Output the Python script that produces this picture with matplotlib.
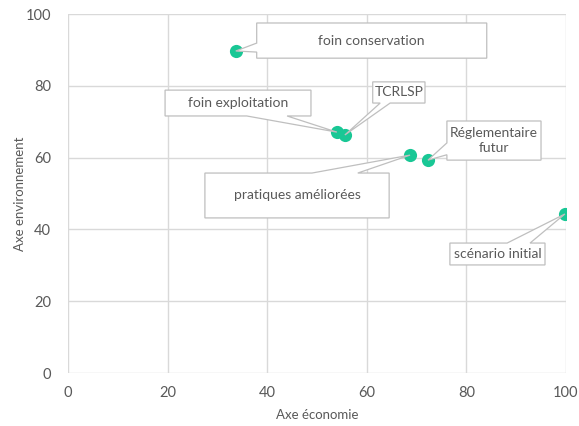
import matplotlib.pyplot as plt
from matplotlib.patches import Polygon

plt.rcParams['font.family'] = ['Lato', 'DejaVu Sans']

# scenario data (économie, environnement)
labels = ['foin conservation', 'foin exploitation', 'TCRLSP',
          'pratiques améliorées', 'Réglementaire\nfutur', 'scénario initial']
economie = [33.7, 54.0, 55.6, 68.7, 72.3, 99.8]
environnement = [89.7, 67.1, 66.3, 60.7, 59.3, 44.3]

# callout layout: box (x0, x1, y0, y1), side of the wedge, wedge base along that side
callouts = [
    ((37.9, 84.1, 87.7, 97.5), 'left', (89.4, 91.9)),
    ((19.5, 48.8, 71.6, 78.8), 'bottom', (35.9, 44.0)),
    ((61.2, 71.7, 75.2, 81.1), 'bottom', (62.7, 64.7)),
    ((27.5, 64.5, 43.2, 55.7), 'top', (49.0, 58.2)),
    ((76.1, 95.0, 59.3, 70.2), 'left', (60.8, 64.1)),
    ((76.7, 95.8, 30.1, 36.2), 'top', (88.2, 92.8)),
]

grey = '#595959'
line = '#d9d9d9'


def callout_path(box, side, base, tip):
    x0, x1, y0, y1 = box
    b0, b1 = base
    if side == 'bottom':
        return [(x0, y0), (b0, y0), tip, (b1, y0), (x1, y0), (x1, y1), (x0, y1)]
    if side == 'top':
        return [(x0, y0), (x1, y0), (x1, y1), (b1, y1), tip, (b0, y1), (x0, y1)]
    return [(x0, y0), (x1, y0), (x1, y1), (x0, y1), (x0, b1), tip, (x0, b0)]


fig = plt.figure(figsize=(5.79, 4.26), dpi=100)
ax = fig.add_axes([0.1174, 0.1244, 0.860, 0.8427])

ax.scatter(economie, environnement, s=90, color='#19c795', zorder=2, linewidths=0)

for lab, x, y, (box, side, base) in zip(labels, economie, environnement, callouts):
    poly = Polygon(callout_path(box, side, base, (x, y)), closed=True,
                   facecolor='white', edgecolor='#bfbfbf', lw=0.9, zorder=3)
    ax.add_patch(poly)
    ax.text((box[0] + box[1]) / 2, (box[2] + box[3]) / 2, lab, ha='center', va='center',
            fontsize=10, color=grey, zorder=4, linespacing=1.3)

ax.set_xlim(0, 100)
ax.set_ylim(0, 100)
ax.set_xticks(range(0, 101, 20))
ax.set_yticks(range(0, 101, 20))
ax.grid(True, color=line, lw=1)
ax.set_axisbelow(True)
for s in ax.spines.values():
    s.set_visible(False)
ax.tick_params(length=0, labelsize=10.5, colors=grey, pad=9)
ax.tick_params(axis='y', pad=12)

ax.set_xlabel('Axe économie', fontsize=9.5, color=grey)
ax.set_ylabel('Axe environnement', fontsize=9.5, color=grey)
ax.xaxis.set_label_coords(0.5, -0.10)
ax.yaxis.set_label_coords(-0.085, 0.5)

plt.savefig('out.png', dpi=100)
